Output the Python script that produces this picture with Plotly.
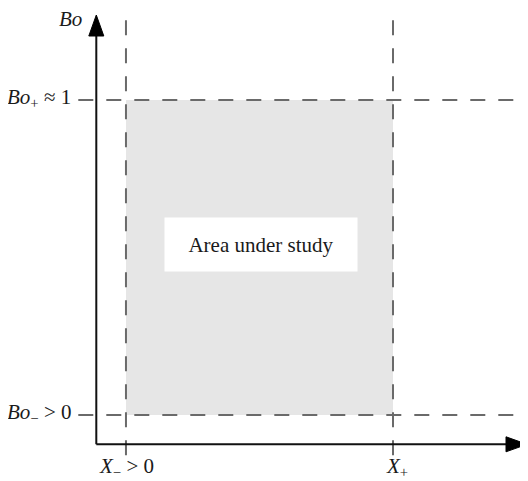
import plotly.graph_objects as go

# ---- conceptual values of the diagram ----
x_bounds = [0.1, 1.0]          # X_-, X_+
bo_bounds = [0.085, 1.0]       # Bo_-, Bo_+
x_labels = ["<i>X</i><sub>−</sub> > 0", "<i>X</i><sub>+</sub>"]
bo_labels = ["<i>Bo</i><sub>−</sub> > 0", "<i>Bo</i><sub>+</sub> ≈ 1"]
x_title = "<i>X</i>"
y_title = "<i>Bo</i>"
region_label = "Area under study"

# page body has an 8px margin; figure spans page pixels 8..528 / 8..481
OFF = 8
W, H = 528 - OFF, 481 - OFF
x_range = [-0.2976, 1.4550]
y_range = [-0.1066, 1.2672]
sx = W / (x_range[1] - x_range[0])
sy = H / (y_range[1] - y_range[0])


def dx(p):
    return p / sx


def dy(p):
    return p / sy


def page_x(p):
    return x_range[0] + (p - OFF) / sx


def page_y(p):
    return y_range[1] - (p - OFF) / sy


FONT = dict(family="Liberation Serif, Times New Roman, serif", size=21, color="#1a1a1a")
DASH = dict(color="#6a6a6a", width=2, dash="15px,13px")
AX = dict(color="#111111", width=2)

x_tip = page_x(527)
y_tip = page_y(15)
head_len, head_half = 21, 7.5

shapes = []
# shaded study region
shapes.append(dict(type="rect", xref="x", yref="y", x0=x_bounds[0], x1=x_bounds[1],
                   y0=bo_bounds[0], y1=bo_bounds[1], fillcolor="#e6e6e6",
                   line=dict(width=0), layer="below"))
# vertical dashed lines
for xv in x_bounds:
    shapes.append(dict(type="line", xref="x", yref="y", x0=xv, x1=xv,
                       y0=-dy(11), y1=page_y(13), line=DASH))
# horizontal dashed lines
for bv in bo_bounds:
    shapes.append(dict(type="line", xref="x", yref="y", x0=-dx(18), x1=x_range[1],
                       y0=bv, y1=bv, line=DASH))
# axes
shapes.append(dict(type="line", xref="x", yref="y", x0=0, x1=0, y0=0,
                   y1=y_tip - dy(head_len - 1), line=AX))
shapes.append(dict(type="line", xref="x", yref="y", x0=0, x1=x_tip - dx(head_len - 1),
                   y0=0, y1=0, line=AX))
# arrowheads
shapes.append(dict(type="path", xref="x", yref="y",
                   path=f"M {-dx(head_half)} {y_tip - dy(head_len)} L 0 {y_tip} "
                        f"L {dx(head_half)} {y_tip - dy(head_len)} Z",
                   fillcolor="#000000", line=dict(color="#000000", width=1)))
shapes.append(dict(type="path", xref="x", yref="y",
                   path=f"M {x_tip - dx(head_len)} {-dy(head_half)} L {x_tip} 0 "
                        f"L {x_tip - dx(head_len)} {dy(head_half)} Z",
                   fillcolor="#000000", line=dict(color="#000000", width=1)))

annotations = []
# region label in white box
annotations.append(dict(x=page_x(261), y=page_y(244.5), xref="x", yref="y", text=region_label,
                        showarrow=False, bgcolor="#ffffff", width=192, height=53,
                        borderpad=0, font=FONT, xanchor="center", yanchor="middle"))
for bv, lab in zip(bo_bounds, bo_labels):
    annotations.append(dict(x=-dx(23), y=bv, xref="x", yref="y", text=lab,
                            showarrow=False, xanchor="right", yanchor="middle",
                            font=FONT, yshift=2))
for xv, lab, xs in zip(x_bounds, x_labels, [1, 4]):
    annotations.append(dict(x=xv, y=page_y(467), xref="x", yref="y", text=lab,
                            showarrow=False, xanchor="center", yanchor="middle",
                            font=FONT, xshift=xs))
annotations.append(dict(x=page_x(519), y=page_y(467), xref="x", yref="y", text=x_title,
                        showarrow=False, xanchor="left", yanchor="middle", font=FONT))
annotations.append(dict(x=page_x(84), y=page_y(19), xref="x", yref="y", text=y_title,
                        showarrow=False, xanchor="right", yanchor="middle", font=FONT))

fig = go.Figure()
fig.add_trace(go.Scatter(x=[None], y=[None], showlegend=False, hoverinfo="skip"))
fig.update_layout(
    width=W, height=H,
    margin=dict(l=0, r=0, t=0, b=0),
    paper_bgcolor="#ffffff", plot_bgcolor="#ffffff",
    xaxis=dict(range=x_range, visible=False, fixedrange=True),
    yaxis=dict(range=y_range, visible=False, fixedrange=True),
    shapes=shapes, annotations=annotations, showlegend=False,
)
fig.write_html("out.html")
